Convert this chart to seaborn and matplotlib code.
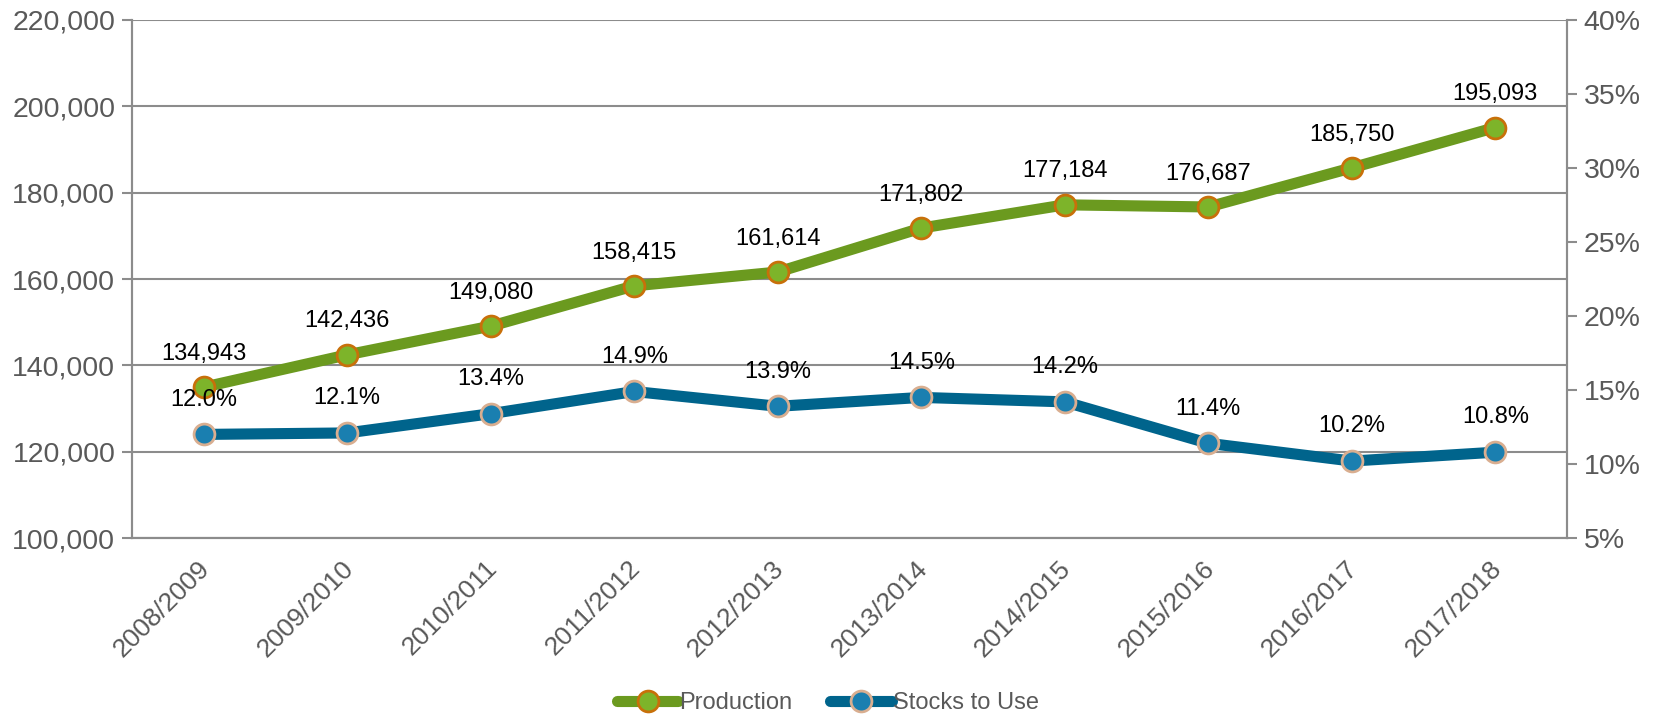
import pandas as pd
import numpy as np
import matplotlib
matplotlib.use('Agg')
import matplotlib.pyplot as plt
import matplotlib.transforms as mtransforms
import seaborn as sns
from matplotlib.ticker import FuncFormatter, FixedLocator

# Data
seasons = ['2008/2009', '2009/2010', '2010/2011', '2011/2012', '2012/2013',
           '2013/2014', '2014/2015', '2015/2016', '2016/2017', '2017/2018']
production = [134943, 142436, 149080, 158415, 161614, 171802, 177184, 176687, 185750, 195093]
stocks_to_use = [12.0, 12.1, 13.4, 14.9, 13.9, 14.5, 14.2, 11.4, 10.2, 10.8]

GREEN = '#6B9A1F'
BLUE = '#00648C'
GRAY = '#595959'
GRID = '#8C8C8C'

sns.set_style('white')
plt.rcParams['font.family'] = ['Liberation Sans', 'DejaVu Sans']

df = pd.DataFrame({'season': seasons, 'x': np.arange(len(seasons)),
                   'production': production, 'stocks': stocks_to_use})

fig = plt.figure(figsize=(16.56, 7.19), dpi=100)
ax = fig.add_axes([0.0797, 0.2517, 0.8666, 0.7205])
ax2 = ax.twinx()

sns.lineplot(data=df, x='x', y='production', ax=ax, color=GREEN, lw=8,
             marker='o', markersize=15, markerfacecolor='#7DB42A',
             markeredgecolor='#C8700A', markeredgewidth=2, label='Production',
             legend=False, zorder=3)
sns.lineplot(data=df, x='x', y='stocks', ax=ax2, color=BLUE, lw=8,
             marker='o', markersize=15, markerfacecolor='#1A7FB0',
             markeredgecolor='#D9AE90', markeredgewidth=2, label='Stocks to Use',
             legend=False, zorder=3)

ax.set_xlim(-0.5, len(seasons) - 0.5)
ax.set_ylim(100000, 220000)
ax2.set_ylim(5, 40)
ax.set_yticks(np.arange(100000, 220001, 20000))
ax2.set_yticks(np.arange(5, 41, 5))
ax.yaxis.set_major_formatter(FuncFormatter(lambda v, p: f'{int(v):,}'))
ax2.yaxis.set_major_formatter(FuncFormatter(lambda v, p: f'{int(v)}%'))

ax.set_xticks(df['x'])
ax.set_xticklabels(seasons, rotation=45, ha='right', rotation_mode='anchor')
ax.xaxis.set_minor_locator(FixedLocator(np.arange(-0.5, len(seasons), 1)))
ax.tick_params(axis='x', which='major', length=0, pad=13, labelsize=19, labelcolor=GRAY)
ax.tick_params(axis='x', which='minor', length=7, width=1.5, color=GRID, direction='out')
ax.tick_params(axis='y', length=7, width=1.5, color=GRID, direction='out', labelsize=20.5,
               labelcolor=GRAY, pad=5)
ax2.tick_params(axis='y', length=7, width=1.5, color=GRID, direction='out', labelsize=20.5,
                labelcolor=GRAY, pad=5)
# nudge rotated labels slightly left
shift = mtransforms.ScaledTranslation(-6 / 100, 0, fig.dpi_scale_trans)
for lab in ax.get_xticklabels():
    lab.set_transform(lab.get_transform() + shift)

ax.grid(axis='y', color=GRID, lw=1.5)
ax.set_axisbelow(True)
for a in (ax, ax2):
    for s in a.spines.values():
        s.set_color(GRID)
        s.set_linewidth(1.5)
    a.spines['top'].set_visible(False)
ax.set_xlabel('')
ax.set_ylabel('')
ax2.set_ylabel('')

for xi, v in zip(df['x'], production):
    ax.annotate(f'{v:,}', (xi, v), xytext=(0, 24), textcoords='offset points',
                ha='center', va='center', fontsize=17, color='black')
for xi, v in zip(df['x'], stocks_to_use):
    ax2.annotate(f'{v:.1f}%', (xi, v), xytext=(0, 25), textcoords='offset points',
                 ha='center', va='center', fontsize=17, color='black')

h1, l1 = ax.get_legend_handles_labels()
h2, l2 = ax2.get_legend_handles_labels()
fig.legend(h1 + h2, l1 + l2, loc='center', bbox_to_anchor=(0.5, 0.022), ncol=2,
           frameon=False, fontsize=17, labelcolor=GRAY, handlelength=2.6,
           handletextpad=0.05, columnspacing=1.6)

fig.savefig('out.png', dpi=100)
